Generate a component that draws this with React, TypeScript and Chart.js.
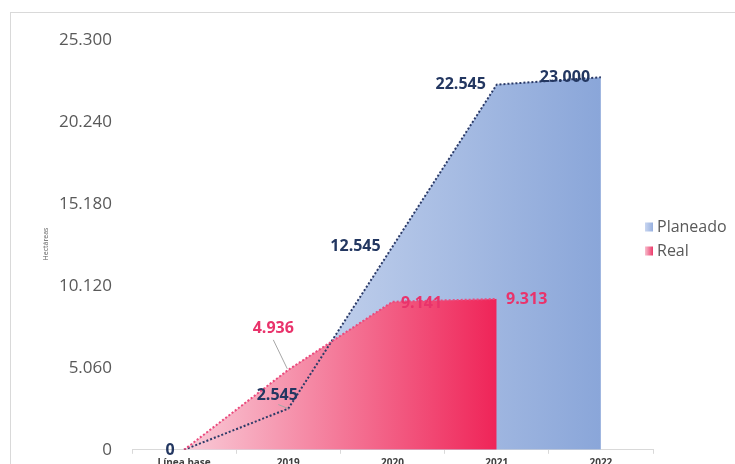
import React, { useEffect, useRef } from 'react';
import { Chart, registerables } from 'chart.js';

Chart.register(...registerables);

// ---- data ----
const categories = ['Línea base', '2019', '2020', '2021', '2022'];
const planeado = [0, 2545, 12545, 22545, 23000];
const real: (number | null)[] = [0, 4936, 9141, 9313, null];
const yTicks = [0, 5060, 10120, 15180, 20240, 25300];
const seriesNames = ['Planeado', 'Real'];
const axisTitle = 'Hectáreas';

// ---- layout of data labels (offsets from point, in px) ----
const planeadoLabelOffsets: ([number, number] | null)[] = [[-14, 1], [-11, -13], [-37, 0], [-36, 0], [-36, 0]];
const realLabelOffsets: ([number, number] | null)[] = [null, [-15, -41], [29, 2], [30, 0], null];
const planeadoLeaders: ([number, number, number, number] | null)[] = [null, [-10, -4, 0, 0], null, null, null];
const realLeaders: ([number, number, number, number] | null)[] = [null, [-15, -30, -1, -1], null, null, null];

const FONT = '"Open Sans", "Liberation Sans", sans-serif';
const NAVY = '#233761';
const PINK = '#e9336b';

const fmt = (n: number) => String(Math.round(n)).replace(/\B(?=(\d{3})+(?!\d))/g, '.');

function makeGradient(chart: any, lastIndex: number, c0: string, c1: string, fallback: string) {
  const xs = chart.scales && chart.scales.x;
  if (!xs || !chart.chartArea) return fallback;
  const x0 = xs.getPixelForValue(0);
  const x1 = xs.getPixelForValue(lastIndex);
  const g = chart.ctx.createLinearGradient(x0, 0, x1, 0);
  g.addColorStop(0, c0);
  g.addColorStop(1, c1);
  return g;
}

const labelsPlugin = {
  id: 'customLabels',
  afterDatasetsDraw(chart: any) {
    const ctx = chart.ctx;
    const xs = chart.scales.x;
    const ys = chart.scales.y;
    ctx.save();
    ctx.font = `bold 16px ${FONT}`;
    ctx.textAlign = 'center';
    ctx.textBaseline = 'middle';
    const drawSet = (vals: (number | null)[], offs: any[], leaders: any[], color: string) => {
      vals.forEach((v, i) => {
        if (v === null || !offs[i]) return;
        const px = xs.getPixelForValue(i);
        const py = ys.getPixelForValue(v);
        const l = leaders[i];
        if (l) {
          ctx.strokeStyle = '#a6a6a6';
          ctx.lineWidth = 1;
          ctx.setLineDash([]);
          ctx.beginPath();
          ctx.moveTo(px + l[0], py + l[1]);
          ctx.lineTo(px + l[2], py + l[3]);
          ctx.stroke();
        }
        ctx.fillStyle = color;
        ctx.fillText(fmt(v), px + offs[i][0], py + offs[i][1]);
      });
    };
    drawSet(planeado, planeadoLabelOffsets, planeadoLeaders, NAVY);
    drawSet(real, realLabelOffsets, realLeaders, PINK);

    // axis title
    ctx.save();
    ctx.translate(46, 244);
    ctx.rotate(-Math.PI / 2);
    ctx.font = `7px ${FONT}`;
    ctx.fillStyle = '#595959';
    ctx.fillText(axisTitle, 0, 0);
    ctx.restore();

    // legend
    const legendItems = [
      { name: seriesNames[0], y: 227, c0: '#c9d6f0', c1: '#97b0df' },
      { name: seriesNames[1], y: 251, c0: '#f7bfce', c1: '#ec3a6a' },
    ];
    legendItems.forEach((it) => {
      const g = ctx.createLinearGradient(645, 0, 653, 0);
      g.addColorStop(0, it.c0);
      g.addColorStop(1, it.c1);
      ctx.fillStyle = g;
      ctx.fillRect(645, it.y - 4.5, 8, 9);
      ctx.fillStyle = '#595959';
      ctx.font = `16px ${FONT}`;
      ctx.textAlign = 'left';
      ctx.fillText(it.name, 657, it.y);
    });
    ctx.restore();
  },
};

export default function App() {
  const ref = useRef<HTMLCanvasElement | null>(null);
  useEffect(() => {
    if (!ref.current) return;
    const chart = new Chart(ref.current, {
      type: 'line',
      data: {
        labels: categories,
        datasets: [
          {
            label: seriesNames[0],
            data: planeado,
            order: 1,
            borderColor: '#2b3a67',
            borderWidth: 2,
            borderDash: [2, 2],
            pointRadius: 0,
            tension: 0,
            fill: 'origin',
            backgroundColor: (c: any) => makeGradient(c.chart, planeado.length - 1, '#dbe4f5', '#8aa6d9', '#b0c3e8'),
          },
          {
            label: seriesNames[1],
            data: real,
            order: 0,
            borderColor: '#ea4a7d',
            borderWidth: 2,
            borderDash: [2, 2],
            pointRadius: 0,
            tension: 0,
            fill: 'origin',
            backgroundColor: (c: any) => makeGradient(c.chart, 3, '#f9ccd8', '#ef2458', '#f26a8d'),
          },
        ],
      },
      options: {
        responsive: false,
        animation: false,
        layout: { padding: { left: 0, top: 40, right: 82, bottom: 0 } },
        plugins: {
          legend: { display: false },
          tooltip: { enabled: false },
          filler: { propagate: false, drawTime: 'beforeDatasetsDraw' },
        },
        scales: {
          x: {
            type: 'category',
            offset: true,
            grid: { display: true, drawOnChartArea: false, drawTicks: true, tickLength: 4, color: '#d9d9d9', offset: true },
            border: { display: true, color: '#d9d9d9', width: 1 },
            ticks: { color: '#404040', font: { family: FONT, size: 10, weight: 'bold' }, padding: 3, maxRotation: 0, autoSkip: false },
            afterFit: (s: any) => { s.height = 15; },
          },
          y: {
            min: 0,
            max: 25300,
            grid: { display: false, drawTicks: false },
            border: { display: false },
            ticks: {
              color: '#595959',
              font: { family: FONT, size: 17 },
              padding: 20,
              callback: (v: any) => fmt(Number(v)),
            },
            afterBuildTicks: (s: any) => { s.ticks = yTicks.map((v) => ({ value: v })); },
            afterFit: (s: any) => { s.width = 132; },
          },
        },
      } as any,
      plugins: [labelsPlugin],
    });
    return () => chart.destroy();
  }, []);

  return (
    <div style={{ position: 'absolute', left: 0, top: 0, width: 735, height: 464, overflow: 'hidden', background: '#fff' }}>
      <div style={{ position: 'absolute', left: 10, top: 12, width: 740, height: 470, borderTop: '1px solid #d9d9d9', borderLeft: '1px solid #d9d9d9' }} />
      <canvas ref={ref} width={735} height={480} style={{ position: 'absolute', left: 0, top: 0 }} />
    </div>
  );
}
